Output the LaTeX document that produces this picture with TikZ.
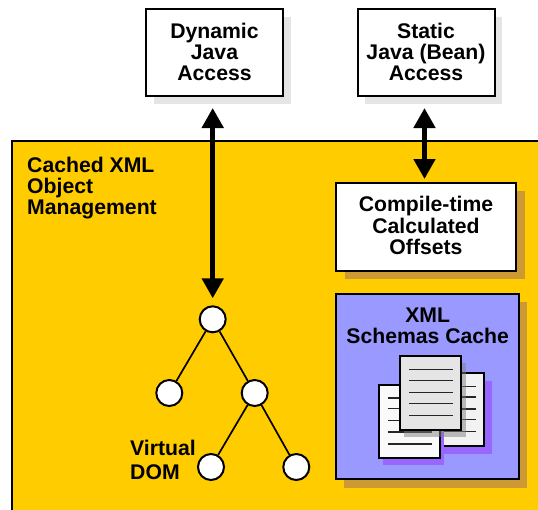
\documentclass[tikz,border=0pt]{standalone}
\usepackage{fontspec}
\setmainfont{Liberation Sans}
\usepackage{xcolor}
\usetikzlibrary{arrows.meta}
\definecolor{cacheyellow}{HTML}{FFCC00}
\definecolor{cacheshadow}{HTML}{CC9933}
\definecolor{schemablue}{HTML}{9999FF}
\definecolor{paperpurple}{HTML}{9966FF}
\tikzset{
  boxtext/.style={font=\fontsize{21.2}{21.2}\selectfont\bfseries, align=center, inner sep=0pt},
  accessbox/.style={boxtext, draw, line width=2pt, fill=white, minimum width=137pt, minimum height=87pt},
  domnode/.style={circle, draw, line width=2pt, fill=white, minimum size=26pt, inner sep=0pt},
  biarrow/.style={line width=4.8pt, {Triangle[width=21pt,length=20pt]}-{Triangle[width=21pt,length=20pt]}},
  paper/.style={draw, line width=1.5pt},
  paperline/.style={line width=1.3pt, black!85}
}
\begin{document}
\begin{tikzpicture}[x=1pt, y=-1pt]
\useasboundingbox (0,0) rectangle (538,509);
\fill[black!10] (154,17) rectangle (291,104);
\fill[black!10] (365,17) rectangle (502,104);
\node[accessbox] (dynamic) at (214.5,52.5) {};
\node[boxtext] (dynamictext) at (214.5,52) {Dynamic\\Java\\Access};
\node[accessbox] (static) at (426,52.5) {};
\node[boxtext] (statictext) at (426,52) {Static\\Java (Bean)\\Access};

\draw[line width=2pt, fill=cacheyellow] (12,520) -- (12,141) -- (550,141) -- (550,520);
\node[boxtext, align=left, anchor=west] (title) at (27,188) {Cached XML\\Object\\Management};

\fill[cacheshadow] (345,191) rectangle (525,279);
\node[accessbox, minimum width=180pt, minimum height=88pt] (offsets) at (426,227) {};
\node[boxtext] (offsetstext) at (426,225.5) {Compile-time\\Calculated\\Offsets};
\fill[cacheshadow] (344,302) rectangle (527,488);
\node[accessbox, fill=schemablue, minimum width=183pt, minimum height=185pt] (schemas) at (427.5,386.5) {};
\node[boxtext] (schematitle) at (427.7,326) {XML\\Schemas Cache};

\fill[paperpurple] (431,381) rectangle (492,454);
\draw[paper, fill=black!5] (423,373) rectangle (484,446);
\foreach \y in {386.7,397,409,419.7,431.7}
  \draw[paperline] (431,\y) -- (476,\y);
\fill[paperpurple] (383,392) rectangle (444,465);
\draw[paper, fill=black!2] (379,385) rectangle (440,458);
\foreach \y in {398,408.7,420.7,432,444}
  \draw[paperline] (387.5,\y) -- (432,\y);
\fill[black!50, opacity=0.5] (404,363) rectangle (466,437);
\draw[paper, fill=black!10] (400,356) rectangle (461,430);
\foreach \y in {369.7,380.3,392.3,403.7,415.7}
  \draw[paperline] (409,\y) -- (453,\y);

\node[domnode] (root) at (212.7,319.3) {};
\node[domnode] (left) at (169.3,393) {};
\node[domnode] (right) at (254.7,393) {};
\node[domnode] (rightleft) at (211,467) {};
\node[domnode] (rightright) at (296.3,467) {};
\draw[line width=1.7pt] (root) -- (left);
\draw[line width=1.7pt] (root) -- (right);
\draw[line width=1.7pt] (right) -- (rightleft);
\draw[line width=1.7pt] (right) -- (rightright);
\node[boxtext, align=left, anchor=west, font=\fontsize{21.2}{23.5}\selectfont\bfseries] (virtual) at (130,460) {Virtual\\DOM};

\draw[biarrow, shorten <=11pt, shorten >=7pt] (dynamic.south -| root) -- (root.north);
\draw[biarrow, shorten <=11pt, shorten >=3pt] ([xshift=-1.5pt]static.south) -- ([xshift=-1.5pt]offsets.north);
\end{tikzpicture}
\end{document}
